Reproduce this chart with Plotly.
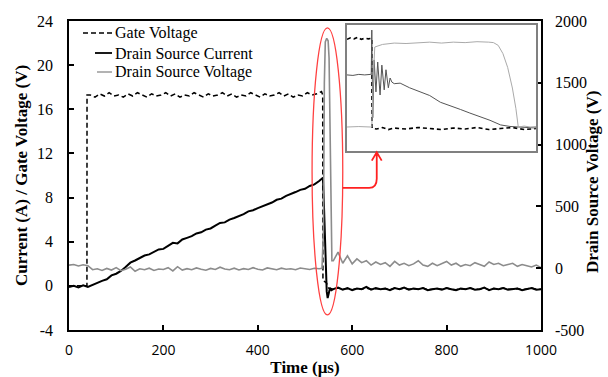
import plotly.graph_objects as go

# ---------------- main data ----------------
gate_time = [0, 38, 38.2] + list(range(45, 536, 10)) + [537.5, 538, 541, 545, 550] + list(range(560, 1001, 10))
gate_volts = [0.0, 0.0, 17.3,
              17.3, 17.1, 17.4, 17.2, 17.5, 17.2, 17.3, 17.1, 17.4, 17.2,
              17.5, 17.3, 17.1, 17.4, 17.2, 17.3, 17.5, 17.2, 17.4, 17.1,
              17.3, 17.2, 17.5, 17.3, 17.1, 17.4, 17.2, 17.3, 17.5, 17.2,
              17.4, 17.1, 17.3, 17.2, 17.5, 17.3, 17.1, 17.4, 17.2, 17.3,
              17.5, 17.2, 17.4, 17.1, 17.3, 17.2, 17.5, 17.3, 17.4, 17.6,
              17.3, 0.5, 0.4, 0.3, -0.2,
              -0.3, -0.2, -0.3, -0.25, -0.35, -0.25, -0.3, -0.2, -0.3, -0.25,
              -0.3, -0.25, -0.35, -0.2, -0.3, -0.2, -0.3, -0.25, -0.3, -0.2,
              -0.35, -0.3, -0.25, -0.3, -0.2, -0.3, -0.35, -0.25, -0.3, -0.2,
              -0.3, -0.3, -0.2, -0.35, -0.25, -0.3, -0.2, -0.3, -0.3, -0.25,
              -0.35, -0.3, -0.2, -0.3, -0.3]

cur_time = list(range(0, 531, 10)) + [535, 538, 540, 543, 546, 548, 550, 553, 556] + list(range(560, 1001, 10))
cur_amps = [-0.1, 0.0, -0.15, 0.05, -0.1, 0.1, 0.25, 0.45, 0.6, 0.95,
            1.1, 1.35, 1.7, 2.1, 2.3, 2.5, 2.75, 2.85, 3.05, 3.3,
            3.35, 3.6, 3.9, 3.85, 4.2, 4.35, 4.5, 4.75, 4.85, 5.1,
            5.2, 5.45, 5.7, 5.75, 6.0, 6.15, 6.3, 6.5, 6.75, 6.85,
            7.05, 7.2, 7.35, 7.55, 7.8, 7.9, 8.15, 8.3, 8.5, 8.7,
            8.8, 9.05, 9.2, 9.5,
            9.7, 9.8, 7.5, 3.0, -0.5, -1.1, -0.6, -0.2, -0.4,
            -0.3, -0.15, -0.35, -0.2, -0.4, -0.25, -0.3, -0.1, -0.35, -0.2,
            -0.3, -0.25, -0.4, -0.2, -0.3, -0.15, -0.35, -0.25, -0.3, -0.2,
            -0.4, -0.3, -0.25, -0.35, -0.2, -0.3, -0.4, -0.25, -0.3, -0.2,
            -0.35, -0.3, -0.15, -0.4, -0.25, -0.3, -0.2, -0.35, -0.3, -0.25,
            -0.4, -0.3, -0.2, -0.35, -0.3]

volt_time = list(range(0, 531, 10)) + [536, 539, 541, 543, 546, 549, 551, 553, 555, 557] + list(range(560, 1001, 10))
volt_values = [25, 30, 18, 28, 20, -12, -5, -18, -2, -15,
               5, -20, -8, 10, -25, -5, -12, 0, -18, -6,
               -10, 4, -22, 12, -15, -4, -12, 2, -8, -16,
               -2, -10, 8, -6, -12, 0, -14, -4, -10, 4,
               -8, -14, 2, -6, -12, 0, -8, -4, -12, 2,
               -6, -10, 0, -4,
               0, 300, 1500, 1830, 1860, 1840, 1700, 1100, 400, 60,
               60, 130, 40, 100, 35, 75, 45, 60, 25, 50,
               30, 45, 15, 55, 25, 40, 20, 35, 60, 25,
               15, 40, 20, 35, 55, 25, 40, 15, 30, 20,
               45, 30, 15, 50, 30, 40, 20, 30, 40, 15,
               30, 20, 10, 25, 5]

# ---------------- inset data (zoom on the switching event) ----------------
in_gate_time = [536.0, 536.3, 536.6, 536.9, 537.2, 537.5, 537.8, 538.1, 538.12, 538.5,
                539.0, 539.5, 540, 541, 542, 543, 544, 545, 546, 547,
                548, 549, 550, 551, 552]
in_gate_volts = [17.2, 17.5, 17.3, 17.6, 17.2, 17.4, 17.3, 17.4, 0.0, -0.2,
                 0.1, -0.3, 0.0, -0.2, 0.1, -0.1, -0.3, 0.0, -0.2, 0.1,
                 -0.3, -0.1, 0.1, -0.3, -0.1]

in_cur_time = [536.0, 536.5, 537.0, 537.5, 538.0, 538.05, 538.1, 538.18, 538.3, 538.45,
               538.6, 538.8, 538.95, 539.15, 539.3, 539.5, 539.65, 539.8, 540.0, 540.5,
               541.3, 542.2, 543.0, 543.9, 544.8, 545.6, 546.4, 547.3, 548.1, 549.0,
               549.8, 550.5, 551.3, 552.0]
in_cur_amps = [10.3, 10.2, 10.4, 10.3, 10.4, 10.3, 19.0, 2.0, 13.2, 7.0,
               12.8, 6.4, 12.2, 7.4, 11.3, 7.8, 9.7, 8.9, 8.6, 8.7,
               7.8, 7.0, 6.3, 5.0, 4.3, 3.6, 2.9, 2.2, 1.5, 0.6,
               0.3, 0.2, 0.1, 0.0]

in_volt_time = [536.0, 537.0, 538.0, 538.1, 538.2, 538.35, 539, 540, 541, 542,
                543, 544, 545, 546, 547, 548, 548.4, 548.8, 549.2, 549.6,
                550.0, 550.3, 550.5, 551, 551.5, 552]
in_volt_values = [0, 10, 0, 0, 900, 1744, 1800, 1830, 1820, 1840,
                  1850, 1830, 1850, 1840, 1860, 1850, 1840, 1780, 1600, 1300,
                  850, 400, 0, 20, 0, 10]

left_ticks = [-4, 0, 4, 8, 12, 16, 20, 24]
left_tick_text = ["-4", "0", "4", "8", "12", "16", "20", "24"]
right_ticks = [-500, 0, 500, 1000, 1500, 2000]
right_tick_text = ["-500", "0", "500", "1000", "1500", "2000"]
x_ticks = [0, 200, 400, 600, 800, 1000]

series_names = ["Gate Voltage", "Drain Source Current", "Drain Source Voltage"]

SERIF = "Liberation Serif"
SANS = "Open Sans"
W, H = 608, 377
ML, MR, MT, MB = 69, 67, 21, 47


def px_x(px):
    return (px - ML) / (W - ML - MR)


def px_y(py):
    return (H - MB - py) / (H - MT - MB)


fig = go.Figure()

fig.add_trace(go.Scatter(x=gate_time, y=gate_volts, mode="lines", name=series_names[0],
                         line=dict(color="black", width=1.5, dash="5px,3px"),
                         xaxis="x", yaxis="y"))
fig.add_trace(go.Scatter(x=cur_time, y=cur_amps, mode="lines", name=series_names[1],
                         line=dict(color="black", width=2),
                         xaxis="x", yaxis="y"))
fig.add_trace(go.Scatter(x=volt_time, y=volt_values, mode="lines", name=series_names[2],
                         line=dict(color="#8c8c8c", width=1.6),
                         xaxis="x", yaxis="y2"))

# inset traces
fig.add_trace(go.Scatter(x=in_gate_time, y=in_gate_volts, mode="lines", showlegend=False,
                         line=dict(color="black", width=1.6, dash="4px,3px"),
                         xaxis="x3", yaxis="y3"))
fig.add_trace(go.Scatter(x=in_cur_time, y=in_cur_amps, mode="lines", showlegend=False,
                         line=dict(color="#555555", width=1),
                         xaxis="x3", yaxis="y3"))
fig.add_trace(go.Scatter(x=in_volt_time, y=in_volt_values, mode="lines", showlegend=False,
                         line=dict(color="#aaaaaa", width=1),
                         xaxis="x3", yaxis="y4"))

axis_common = dict(showgrid=False, zeroline=False, showline=True, linecolor="black",
                   linewidth=1.5, ticks="inside", ticklen=5, tickwidth=1.5, tickcolor="black",
                   automargin=False)

fig.update_layout(
    width=W, height=H,
    margin=dict(l=ML, r=MR, t=MT, b=MB),
    paper_bgcolor="white", plot_bgcolor="white",
    showlegend=False,
    xaxis=dict(range=[0, 1000], tickvals=x_ticks, mirror=True,
               tickfont=dict(family=SANS, size=14, color="black"),
               ticklabelstandoff=6,
               title=dict(text="Time (μs)", font=dict(family=SERIF, size=17, color="black", weight="bold"),
                          standoff=4),
               **axis_common),
    yaxis=dict(range=[-4, 24], tickvals=left_ticks, ticktext=left_tick_text,
               tickfont=dict(family=SERIF, size=16, color="black"),
               ticklabelstandoff=11,
               title=dict(text="Current (A) / Gate Voltage (V)",
                          font=dict(family=SERIF, size=17, color="black", weight="bold"),
                          standoff=5),
               **axis_common),
    yaxis2=dict(range=[-500, 2000], tickvals=right_ticks, ticktext=right_tick_text,
                overlaying="y", side="right",
                tickfont=dict(family=SERIF, size=16, color="black"),
                ticklabelstandoff=9,
                **axis_common),
    xaxis3=dict(domain=[px_x(347), px_x(536)], range=[536, 552], anchor="y3",
                showgrid=False, zeroline=False, showticklabels=False, ticks="",
                showline=True, mirror=True, linecolor="#808080", linewidth=1.5),
    yaxis3=dict(domain=[px_y(151), px_y(25)], range=[-4.46, 19.98], anchor="x3",
                showgrid=False, zeroline=False, showticklabels=False, ticks="",
                showline=True, mirror=True, linecolor="#808080", linewidth=1.5),
    yaxis4=dict(range=[-523, 2224], overlaying="y3", anchor="x3", side="right",
                showgrid=False, zeroline=False, showticklabels=False, ticks="", showline=False),
)

# right axis title
fig.add_annotation(text="Drain Source Voltage (V)", xref="paper", yref="paper",
                   x=px_x(592), y=px_y(182), textangle=-90, showarrow=False,
                   xanchor="center", yanchor="middle",
                   font=dict(family=SERIF, size=17, color="black", weight="bold"))

# legend drawn as line samples + text
legend_rows = [
    (series_names[0], 33, 83, dict(color="black", width=1.5, dash="5px,3px")),
    (series_names[1], 53, 95, dict(color="black", width=1.8)),
    (series_names[2], 72, 97, dict(color="#9a9a9a", width=1.5)),
]
for name, py, x_start, line in legend_rows:
    fig.add_shape(type="line", xref="paper", yref="paper",
                  x0=px_x(x_start), x1=px_x(112), y0=px_y(py), y1=px_y(py), line=line)
    fig.add_annotation(text=name, xref="paper", yref="paper", x=px_x(113), y=px_y(py),
                       xanchor="left", yanchor="middle", showarrow=False,
                       font=dict(family=SERIF, size=16, color="black"))

# red ellipse around the switching event and arrow pointing to the inset
fig.add_shape(type="circle", xref="x", yref="y", x0=515, x1=580, y0=-2.63, y1=23.37,
              line=dict(color="#ff4040", width=1.3))
fig.add_shape(type="path", xref="x", yref="y",
              path="M 580 8.87 L 636 8.87 Q 652 8.87 652 9.7 L 652 12.1 "
                   "M 641.5 11.35 L 652 12.1 L 662.5 11.35",
              line=dict(color="#ff2020", width=1.8))

fig.write_html("out.html")
